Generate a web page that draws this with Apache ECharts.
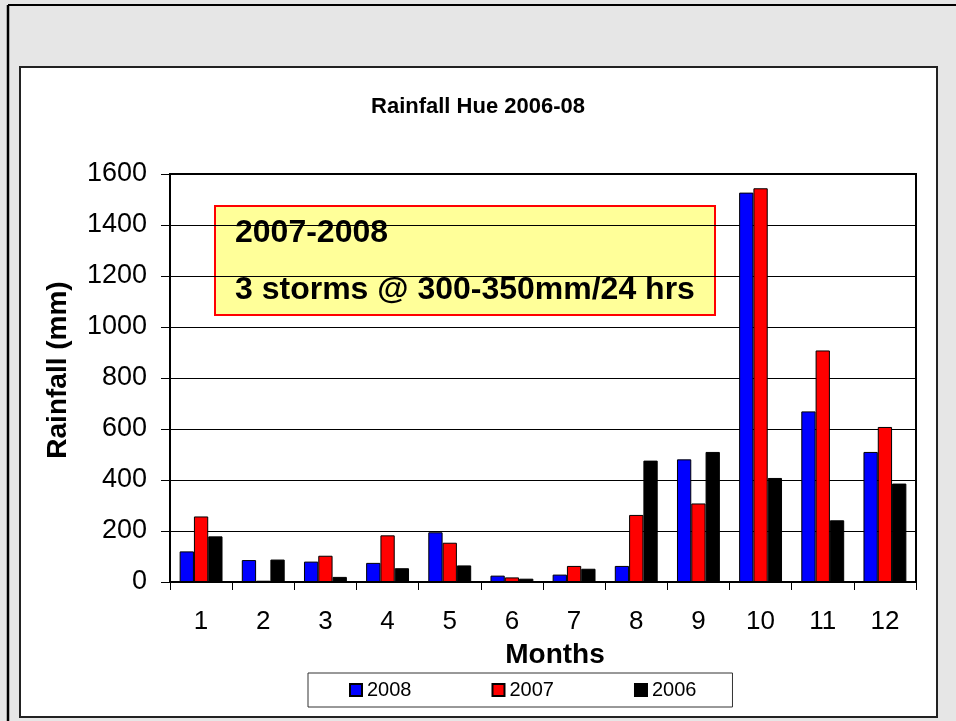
<!DOCTYPE html>
<html>
<head>
<meta charset="utf-8">
<title>Rainfall Hue 2006-08</title>
<script src="https://cdn.jsdelivr.net/npm/echarts@6/dist/echarts.min.js"></script>
<style>
    html, body { margin: 0; padding: 0; }
    #chart { width: 956px; height: 721px; }
</style>
</head>
<body>
<div id="chart"></div>
<script>
// monthly rainfall (mm)
const months = ['1', '2', '3', '4', '5', '6', '7', '8', '9', '10', '11', '12'];
const rain2008 = [120, 86, 80, 75, 195, 25, 29, 63, 481, 1527, 669, 510];
const rain2007 = [257, 5, 103, 183, 154, 18, 63, 263, 308, 1544, 908, 608];
const rain2006 = [179, 88, 20, 54, 65, 13, 52, 476, 510, 408, 242, 386];
const seriesNames = ['2008', '2007', '2006'];
const seriesColors = ['#0000ff', '#ff0000', '#000000'];
const noteLines = ['2007-2008', '3 storms @ 300-350mm/24 hrs'];

const font = "'Liberation Sans', Arial, sans-serif";
const chart = echarts.init(document.getElementById('chart'));

function barSeries(name, data, color) {
    return {
        name: name,
        type: 'bar',
        data: data,
        barGap: 0,
        barCategoryGap: '31%',
        itemStyle: {
            color: color,
            borderColor: '#000',
            borderWidth: 1
        }
    };
}

const option = {
    backgroundColor: '#e6e6e6',
    animation: false,
    textStyle: { fontFamily: font },
    title: {
        text: 'Rainfall Hue 2006-08',
        left: 'center',
        top: 91,
        textStyle: { fontFamily: font, fontSize: 22, fontWeight: 'bold', color: '#000' }
    },
    legend: {
        data: seriesNames,
        left: 308,
        top: 673,
        padding: [7, 36, 7, 41],
        itemGap: 80,
        itemWidth: 12,
        itemHeight: 12,
        icon: 'rect',
        borderColor: '#333',
        borderWidth: 1,
        backgroundColor: '#fff',
        textStyle: { fontFamily: font, fontSize: 20, color: '#000' }
    },
    grid: {
        left: 170,
        right: 40,
        top: 174,
        bottom: 139,
        show: true,
        borderColor: '#000',
        borderWidth: 2,
        backgroundColor: '#fff'
    },
    xAxis: {
        type: 'category',
        data: months,
        name: 'Months',
        nameLocation: 'middle',
        nameGap: 59,
        nameTextStyle: {
            fontFamily: font, fontSize: 28, fontWeight: 'bold', color: '#000',
            padding: [0, 0, 0, 24]
        },
        axisLine: { lineStyle: { color: '#000', width: 2 } },
        axisTick: { show: true, length: 8, lineStyle: { color: '#000', width: 1 } },
        axisLabel: { margin: 27, fontFamily: font, fontSize: 26, color: '#000' }
    },
    yAxis: {
        type: 'value',
        min: 0,
        max: 1600,
        interval: 200,
        name: 'Rainfall (mm)',
        nameLocation: 'middle',
        nameRotate: 90,
        nameGap: 98,
        nameTextStyle: {
            fontFamily: font, fontSize: 28, fontWeight: 'bold', color: '#000',
            padding: [0, 0, 0, 16]
        },
        axisLine: { show: true, lineStyle: { color: '#000', width: 2 } },
        axisTick: { show: true, length: 9, lineStyle: { color: '#000', width: 1 } },
        axisLabel: {
            margin: 23, fontFamily: font, fontSize: 27, color: '#000',
            formatter: function (v) { return String(v); }
        },
        splitLine: { show: true, lineStyle: { color: '#000', width: 1 } }
    },
    graphic: [
        // page frame lines and the white chart panel
        { type: 'line', z: -10, shape: { x1: 8, y1: 5, x2: 956, y2: 5 }, style: { stroke: '#000', lineWidth: 2 } },
        { type: 'line', z: -10, shape: { x1: 8, y1: 5, x2: 8, y2: 721 }, style: { stroke: '#000', lineWidth: 2.5 } },
        {
            type: 'rect', z: -10,
            shape: { x: 20, y: 67, width: 917, height: 650 },
            style: { fill: '#fff', stroke: '#222', lineWidth: 2 }
        },
        {
            type: 'group',
            left: 214,
            top: 205,
            z: 10,
            children: [
                {
                    type: 'rect',
                    shape: { x: 0, y: 0, width: 500, height: 109 },
                    style: { fill: '#ffff99', stroke: '#ff0000', lineWidth: 2 }
                },
                {
                    type: 'text',
                    x: 20, y: 27,
                    style: { text: noteLines[0], font: 'bold 32px ' + font, fill: '#000', verticalAlign: 'middle' }
                },
                {
                    type: 'text',
                    x: 20, y: 84,
                    style: { text: noteLines[1], font: 'bold 32px ' + font, fill: '#000', verticalAlign: 'middle' }
                }
            ]
        }
    ],
    series: [
        barSeries(seriesNames[0], rain2008, seriesColors[0]),
        barSeries(seriesNames[1], rain2007, seriesColors[1]),
        barSeries(seriesNames[2], rain2006, seriesColors[2])
    ]
};

chart.setOption(option);
</script>
</body>
</html>
